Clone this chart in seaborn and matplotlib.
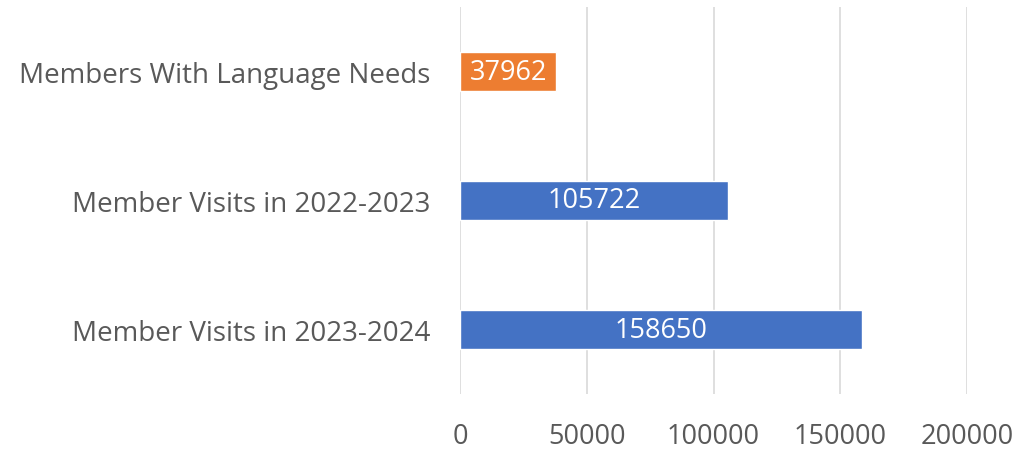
import matplotlib
matplotlib.use("Agg")
import matplotlib.pyplot as plt
import seaborn as sns
import pandas as pd

categories = ["Members With Language Needs", "Member Visits in 2022-2023", "Member Visits in 2023-2024"]
values = [37962, 105722, 158650]
colors = ["#ED7D31", "#4472C4", "#4472C4"]
xticks = [0, 50000, 100000, 150000, 200000]

sns.set_theme(style="white")
plt.rcParams['font.family'] = ['Open Sans', 'DejaVu Sans']

df = pd.DataFrame({"cat": categories, "val": values})
fig = plt.figure(figsize=(10.17, 4.52), dpi=100)
ax = fig.add_axes([460/1017, 1-395/452, (967-460)/1017, (395-8)/452])
sns.barplot(data=df, y="cat", x="val", hue="cat", palette=colors, width=0.31, legend=False, ax=ax, saturation=1)
ax.set_xlim(0, 200000)
ax.set_xticks(xticks)
ax.set_xticklabels([str(t) for t in xticks], fontsize=19.5, color="#595959")
ax.tick_params(axis="y", labelsize=20, labelcolor="#595959", pad=21, length=0)
ax.tick_params(axis="x", pad=20, length=0)
ax.grid(axis="x", color="#D9D9D9", linewidth=1.2)
ax.set_axisbelow(True)
for s in ax.spines.values():
    s.set_visible(False)
ax.set_xlabel("")
ax.set_ylabel("")
for c in ax.containers:
    ax.bar_label(c, labels=[f"{int(v)}" for v in c.datavalues], label_type="center", color="white", fontsize=19.5)
fig.savefig("out.png", dpi=100)
